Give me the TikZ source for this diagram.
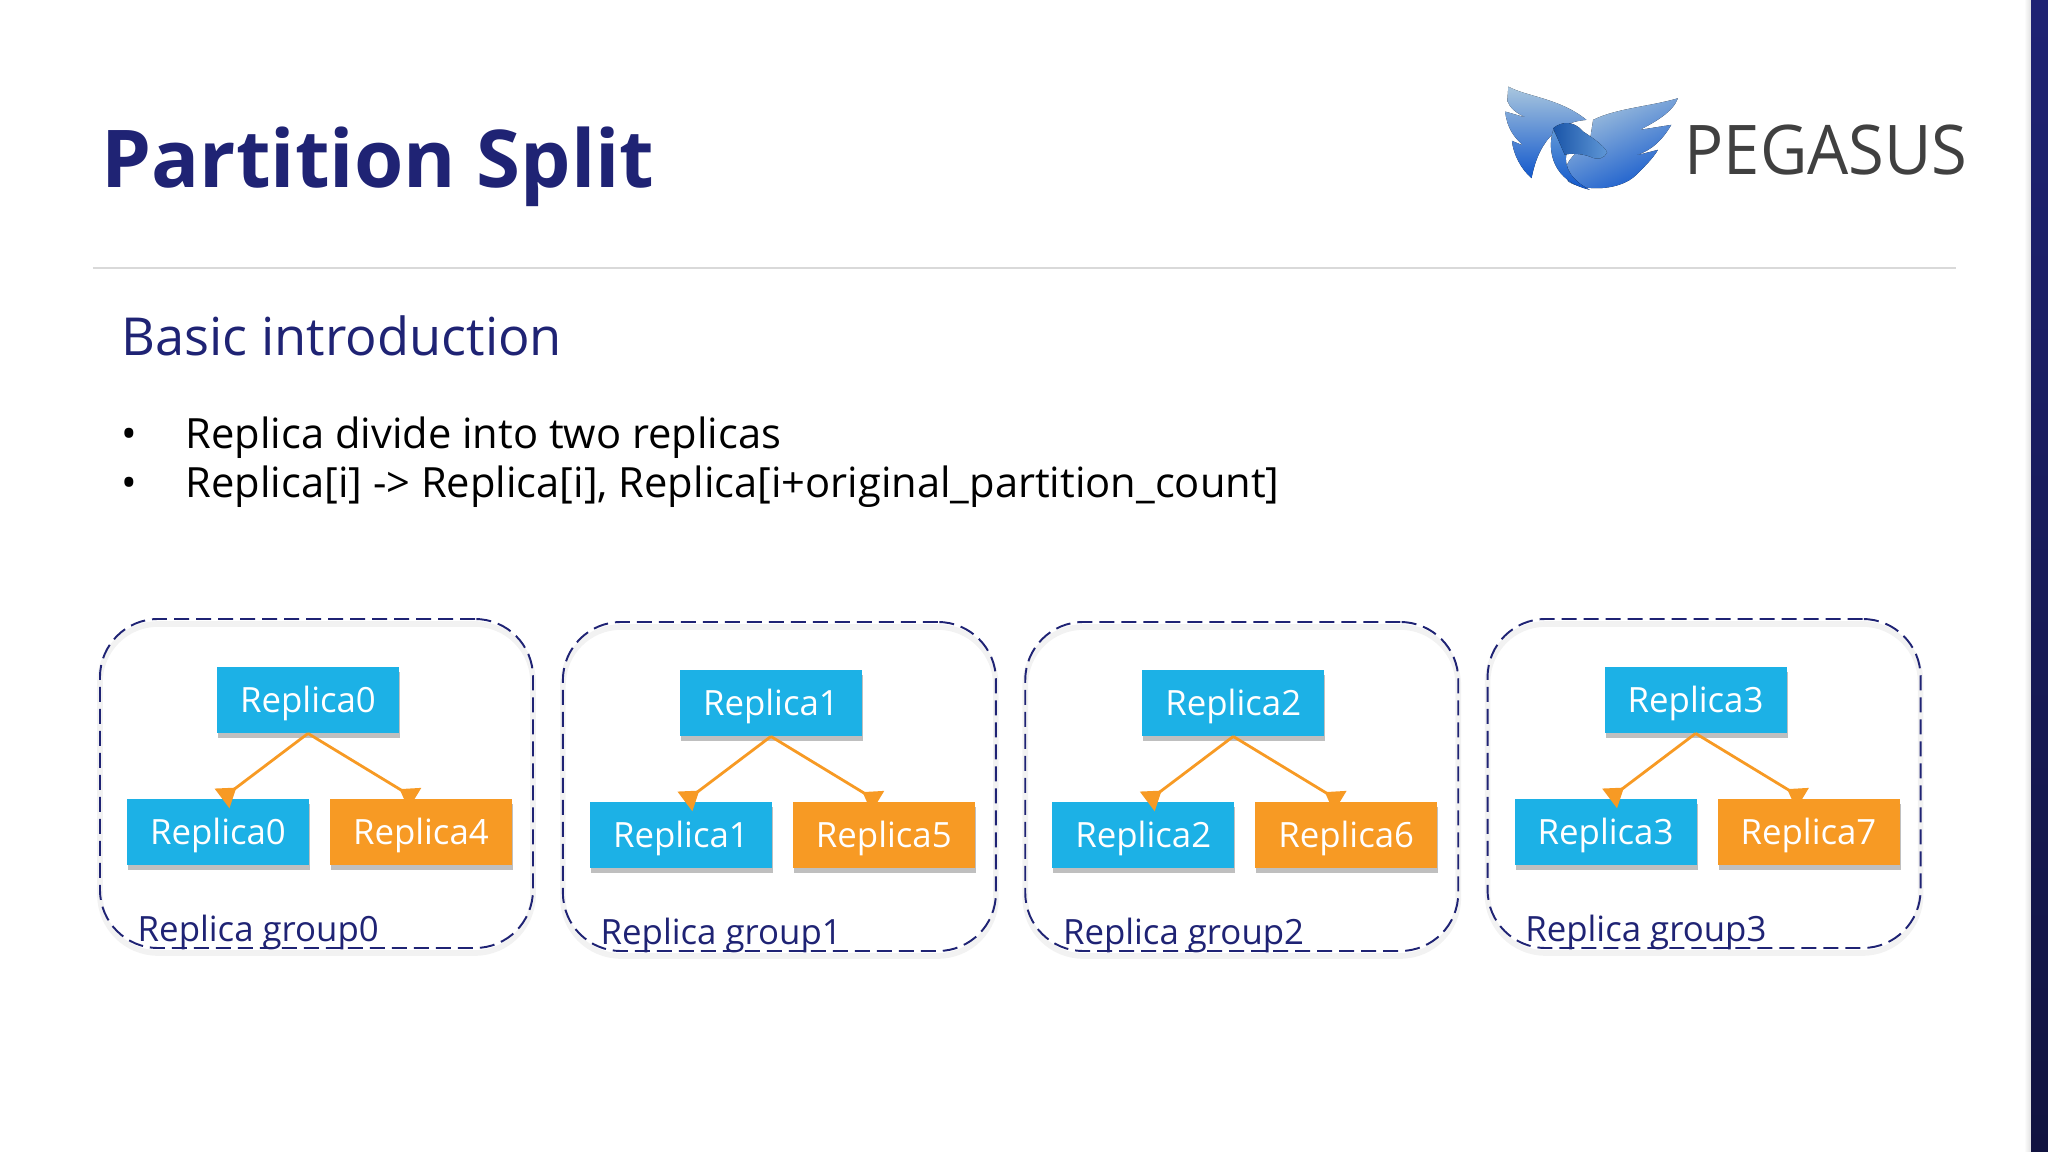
\documentclass[tikz,border=0pt]{standalone}
\usepackage{fontspec}
\setmainfont{Open Sans}
\usepackage{tikz}
\usetikzlibrary{positioning,shadows,arrows.meta}

\definecolor{navytext}{HTML}{1F2374}
\definecolor{replicablue}{HTML}{1CB1E6}
\definecolor{replicaorange}{HTML}{F79A24}
\definecolor{logopale}{HTML}{A9C6DE}
\definecolor{logomid}{HTML}{5F97D6}
\definecolor{logodeep}{HTML}{1258CC}
\definecolor{logohead}{HTML}{1A55A8}

\begin{document}
\begin{tikzpicture}[
    titletext/.style={anchor=base west, inner sep=0pt, text=navytext, font=\fontsize{22.7}{27}\selectfont\bfseries},
    headtext/.style={anchor=base west, inner sep=0pt, text=navytext, font=\fontsize{14.9}{18}\selectfont},
    bodytext/.style={anchor=base west, inner sep=0pt, text=black, font=\fontsize{11.85}{14}\selectfont},
    replica/.style={rectangle, text=white, minimum width=1.82cm, minimum height=0.66cm, inner sep=0pt,
        text height=0.25cm, text depth=0pt, font=\fontsize{9.9}{12}\selectfont,
        drop shadow={shadow xshift=0.01cm, shadow yshift=-0.05cm, fill=black, opacity=0.25}},
    bluebox/.style={replica, fill=replicablue},
    orangebox/.style={replica, fill=replicaorange},
    groupbox/.style={rectangle, draw=navytext, line width=0.55pt, rounded corners=0.58cm,
        dash pattern=on 0.15cm off 0.07cm, minimum width=4.33cm, minimum height=3.29cm,
        preaction={draw=black!5, line width=1.6pt, solid, transform canvas={yshift=-0.05cm}}},
    grouplabel/.style={anchor=base west, inner sep=0pt, text=navytext, font=\fontsize{9.9}{12}\selectfont},
    line/.style={draw=replicaorange, line width=0.8pt, -{Triangle[reversed, length=0.18cm, width=0.24cm]}}]

    \useasboundingbox (0,0) rectangle (20.48,-11.52);

    % Side band and header rule
    \fill [left color=white, right color=black!12] (20.24,0) rectangle (20.31,-11.52);
    \fill [top color=navytext, bottom color=navytext!55!black] (20.31,0) rectangle (20.48,-11.52);
    \draw [black!15, line width=0.7pt] (0.93,-2.68) -- (19.56,-2.68);

    % Title and text
    \node [titletext] (title) at (1.01,-1.88) {Partition Split};
    \node [headtext] (head) at (1.21,-3.56) {Basic introduction};
    \node [bodytext] (bullet1) at (1.21,-4.49) {•};
    \node [bodytext] (line1) at (1.85,-4.49) {Replica divide into two replicas};
    \node [bodytext] (bullet2) at (1.21,-4.97) {•};
    \node [bodytext] (line2) at (1.85,-4.97) {Replica[i] -> Replica[i], Replica[i+original\_partition\_count]};

    % Logo wings and horse head
    \begin{scope}[shift={(14.90,-0.75)}, x=0.00333cm, y=-0.00333cm]
        \fill [top color=logopale, middle color=logomid, bottom color=logodeep]
            (55,35) .. controls (110,65) and (210,70) .. (290,135) .. controls (220,140) and (150,180) .. (125,310)
            .. controls (95,285) and (70,240) .. (66,198) -- (100,212) .. controls (75,190) and (50,160) .. (46,110)
            -- (108,128) .. controls (80,115) and (60,100) .. (52,78) -- cycle;
        \fill [left color=logopale, right color=logodeep, shading angle=25]
            (565,70) .. controls (480,95) and (380,100) .. (310,135) -- (300,200) .. controls (250,240) and (210,270) .. (235,320)
            .. controls (280,350) and (390,350) .. (440,300) .. controls (470,270) and (490,250) .. (505,225)
            -- (420,247) .. controls (470,235) and (510,210) .. (545,150) -- (450,165) .. controls (500,140) and (550,110) .. (565,70) -- cycle;
        \fill [top color=logomid, bottom color=logodeep]
            (190,165) .. controls (170,230) and (190,320) .. (300,345) .. controls (250,320) and (220,280) .. (230,235) -- cycle;
        \fill [left color=logohead, right color=logomid]
            (190,160) .. controls (215,140) and (250,135) .. (280,170) .. controls (310,190) and (340,210) .. (352,232)
            .. controls (345,250) and (325,258) .. (300,245) .. controls (270,235) and (240,235) .. (225,240) -- cycle;
    \end{scope}
    \node [anchor=base west, inner sep=0pt, xscale=0.95, text=black!75, font=\fontsize{19.5}{24}\selectfont] (pegasus) at (16.84,-1.75) {PEGASUS};

    % Replica group 0
    \node [groupbox] (group0) at (3.165,-7.835) {};
    \node [bluebox, below=0.48cm of group0.north, xshift=-0.085cm] (top0) {Replica0};
    \node [bluebox, below=0.65cm of top0, xshift=-0.90cm] (left0) {Replica0};
    \node [orangebox, right=0.195cm of left0] (right0) {Replica4};
    \node [grouplabel] (label0) at ([shift={(0.38,0.07)}]group0.south west) {Replica group0};
    \path [line] (top0.south) -- ([xshift=0.04cm]left0.north);
    \path [line] (top0.south) -- ([xshift=-0.06cm]right0.north);

    % Replica group 1
    \node [groupbox, right=0.28cm of group0, yshift=-0.03cm] (group1) {};
    \node [bluebox, below=0.48cm of group1.north, xshift=-0.085cm] (top1) {Replica1};
    \node [bluebox, below=0.65cm of top1, xshift=-0.90cm] (left1) {Replica1};
    \node [orangebox, right=0.195cm of left1] (right1) {Replica5};
    \node [grouplabel] (label1) at ([shift={(0.38,0.07)}]group1.south west) {Replica group1};
    \path [line] (top1.south) -- ([xshift=0.04cm]left1.north);
    \path [line] (top1.south) -- ([xshift=-0.06cm]right1.north);

    % Replica group 2
    \node [groupbox, right=0.274cm of group1] (group2) {};
    \node [bluebox, below=0.48cm of group2.north, xshift=-0.085cm] (top2) {Replica2};
    \node [bluebox, below=0.65cm of top2, xshift=-0.90cm] (left2) {Replica2};
    \node [orangebox, right=0.195cm of left2] (right2) {Replica6};
    \node [grouplabel] (label2) at ([shift={(0.38,0.07)}]group2.south west) {Replica group2};
    \path [line] (top2.south) -- ([xshift=0.04cm]left2.north);
    \path [line] (top2.south) -- ([xshift=-0.06cm]right2.north);

    % Replica group 3
    \node [groupbox, right=0.274cm of group2, yshift=0.03cm] (group3) {};
    \node [bluebox, below=0.48cm of group3.north, xshift=-0.085cm] (top3) {Replica3};
    \node [bluebox, below=0.65cm of top3, xshift=-0.90cm] (left3) {Replica3};
    \node [orangebox, right=0.195cm of left3] (right3) {Replica7};
    \node [grouplabel] (label3) at ([shift={(0.38,0.07)}]group3.south west) {Replica group3};
    \path [line] (top3.south) -- ([xshift=0.04cm]left3.north);
    \path [line] (top3.south) -- ([xshift=-0.06cm]right3.north);
\end{tikzpicture}
\end{document}
